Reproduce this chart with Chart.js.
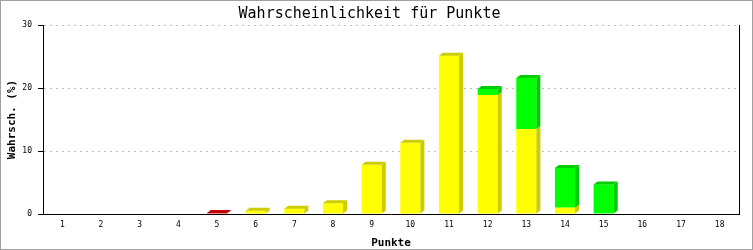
<!DOCTYPE html>
<html>
<head>
<meta charset="utf-8">
<script src="https://cdn.jsdelivr.net/npm/chart.js@4"></script>
<style>
  html, body { margin: 0; padding: 0; background: #fff; }
</style>
</head>
<body>
<canvas id="chart" width="753" height="250"></canvas>
<script>
// Punkte 1..18
const punkte = ['1','2','3','4','5','6','7','8','9','10','11','12','13','14','15','16','17','18'];
// Wahrscheinlichkeit in %, gestapelt
const rot  = [0,0,0,0,0.15,0,0,0,0,0,0,0,0,0,0,0,0,0];
const gelb = [0,0,0,0,0,0.5,0.85,1.7,7.8,11.3,25.1,18.9,13.5,1.0,0,0,0,0];
const gruen = [0,0,0,0,0,0,0,0,0,0,0,0.95,8.1,6.3,4.7,0,0,0];
const yTicks = [0, 10, 20, 30];

const fontMono = 'DejaVu Sans Mono';
const depthX = 4, depthY = 3;

// 3D-Effekt: Seiten- und Deckfläche je Balken
const bar3d = {
  id: 'bar3d',
  afterDatasetsDraw(chart) {
    const ctx = chart.ctx;
    const n = chart.data.labels.length;
    const metas = chart.data.datasets.map((d, i) => chart.getDatasetMeta(i));
    for (let j = 0; j < n; j++) {
      let topIdx = -1;
      metas.forEach((m, i) => { if (chart.data.datasets[i].data[j] > 0) topIdx = i; });
      metas.forEach((m, i) => {
        const v = chart.data.datasets[i].data[j];
        if (!(v > 0)) return;
        const el = m.data[j];
        const half = el.width / 2;
        const l = el.x - half, r = el.x + half;
        const top = el.y, base = el.base;
        ctx.save();
        ctx.fillStyle = chart.data.datasets[i].sideColor;
        ctx.beginPath();
        ctx.moveTo(r, top);
        ctx.lineTo(r + depthX, top - depthY);
        ctx.lineTo(r + depthX, base - depthY);
        ctx.lineTo(r, base);
        ctx.closePath();
        ctx.fill();
        if (i === topIdx) {
          ctx.beginPath();
          ctx.moveTo(l, top);
          ctx.lineTo(l + depthX, top - depthY);
          ctx.lineTo(r + depthX, top - depthY);
          ctx.lineTo(r, top);
          ctx.closePath();
          ctx.fill();
        }
        ctx.restore();
      });
    }
  }
};

// Rahmen rechts und äußerer Rand
const frame = {
  id: 'frame',
  afterDraw(chart) {
    const ctx = chart.ctx, a = chart.chartArea;
    ctx.save();
    ctx.strokeStyle = '#000';
    ctx.lineWidth = 1;
    ctx.beginPath();
    ctx.moveTo(Math.round(a.right) + 0.5, a.top);
    ctx.lineTo(Math.round(a.right) + 0.5, a.bottom + 1);
    ctx.stroke();
    ctx.strokeStyle = '#a0a0a0';
    ctx.lineWidth = 2;
    ctx.strokeRect(0, 0, chart.width, chart.height);
    ctx.restore();
  }
};

const ctx = document.getElementById('chart').getContext('2d');
new Chart(ctx, {
  type: 'bar',
  data: {
    labels: punkte,
    datasets: [
      { label: 'rot', data: rot, backgroundColor: '#dd0000', sideColor: '#c00000' },
      { label: 'gelb', data: gelb, backgroundColor: '#ffff00', sideColor: '#cccc00' },
      { label: 'grün', data: gruen, backgroundColor: '#00ff00', sideColor: '#00cc00' }
    ]
  },
  options: {
    responsive: false,
    animation: false,
    maintainAspectRatio: false,
    barPercentage: 0.52,
    categoryPercentage: 1.0,
    layout: { padding: { left: 0, right: 14, top: 0, bottom: 0 } },
    plugins: {
      legend: { display: false },
      tooltip: { enabled: false },
      title: {
        display: true,
        text: 'Wahrscheinlichkeit für Punkte',
        color: '#000',
        font: { family: fontMono, size: 15, weight: 'normal' },
        padding: { top: 5, bottom: 2 }
      }
    },
    scales: {
      x: {
        stacked: true,
        grid: { display: false, drawTicks: false },
        border: { display: true, color: '#000', width: 1 },
        ticks: { color: '#000', font: { family: fontMono, size: 8 }, padding: 6, maxRotation: 0, autoSkip: false },
        title: {
          display: true, text: 'Punkte', color: '#000',
          font: { family: fontMono, size: 11, weight: 'bold' },
          padding: { top: 1, bottom: 0 }
        },
        afterFit(scale) { scale.height = 36; }
      },
      y: {
        stacked: true,
        min: 0, max: 30,
        afterBuildTicks(scale) { scale.ticks = yTicks.map(v => ({ value: v })); },
        grid: { color: '#c0c0c0', tickColor: '#000', tickLength: 5, drawOnChartArea: true },
        border: { display: true, color: '#000', width: 1, dash: [2, 4] },
        ticks: { color: '#000', font: { family: fontMono, size: 8 }, padding: 6 },
        title: {
          display: true, text: 'Wahrsch. (%)', color: '#000',
          font: { family: fontMono, size: 11, weight: 'bold' },
          padding: { top: 6, bottom: 0 }
        },
        afterFit(scale) { scale.width = 43; scale.paddingTop = 0; }
      }
    }
  },
  plugins: [bar3d, frame]
});
</script>
</body>
</html>
